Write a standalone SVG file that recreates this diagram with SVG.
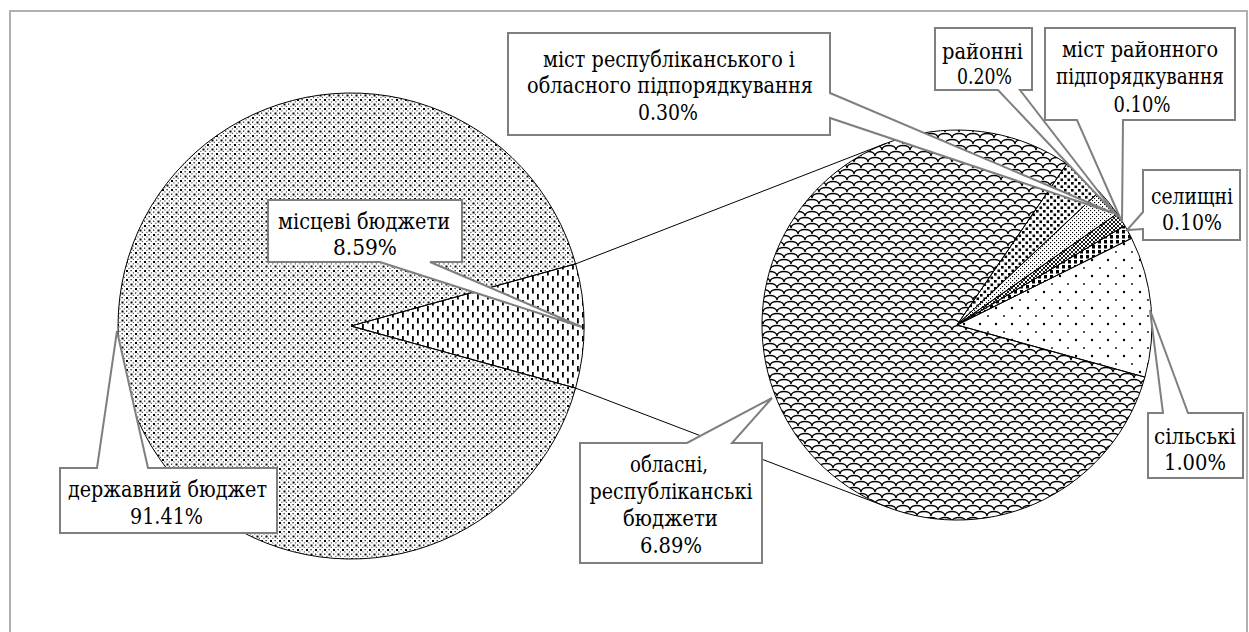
<svg xmlns="http://www.w3.org/2000/svg" width="1249" height="632" viewBox="0 0 1249 632">
<defs>
<pattern id="pState" width="9" height="9" patternUnits="userSpaceOnUse">
<rect x="0" y="0" width="2" height="2" fill="#000"/>
<rect x="4.5" y="4.5" width="2" height="2" fill="#000"/>
<rect x="4.5" y="0" width="1.3" height="1.3" fill="#222"/>
<rect x="0" y="4.5" width="1.3" height="1.3" fill="#222"/>
<rect x="2.3" y="2.3" width="1.2" height="1.2" fill="#555"/>
<rect x="6.8" y="6.8" width="1.2" height="1.2" fill="#555"/>
<rect x="6.8" y="2.3" width="1.2" height="1.2" fill="#555"/>
<rect x="2.3" y="6.8" width="1.2" height="1.2" fill="#555"/>
</pattern>
<pattern id="pLocal" width="10" height="12" patternUnits="userSpaceOnUse">
<rect x="2" y="0" width="1.8" height="5.5" fill="#000"/>
<rect x="7" y="6" width="1.8" height="5.5" fill="#000"/>
</pattern>
<pattern id="pScale" width="14" height="12" patternUnits="userSpaceOnUse">
<path d="M0,6 C0,0 14,0 14,6 M-7,12 C-7,6 7,6 7,12 M7,12 C7,6 21,6 21,12 M-7,0 C-7,-6 7,-6 7,0 M7,0 C7,-6 21,-6 21,0" fill="none" stroke="#000" stroke-width="1.4"/>
</pattern>
<pattern id="pRural" width="16" height="16" patternUnits="userSpaceOnUse">
<circle cx="4" cy="4" r="1.2" fill="#000"/>
<circle cx="12" cy="12" r="0.9" fill="#000"/>
</pattern>
<pattern id="pCityRep" width="7" height="7" patternUnits="userSpaceOnUse">
<rect x="0" y="0" width="2.6" height="2.6" fill="#000"/>
<rect x="3.5" y="3.5" width="2.6" height="2.6" fill="#000"/>
</pattern>
<pattern id="pDistrict" width="4" height="4" patternUnits="userSpaceOnUse">
<rect x="0" y="0" width="1.1" height="1.1" fill="#000"/>
<rect x="2" y="2" width="1.1" height="1.1" fill="#000"/>
</pattern>
<pattern id="pCityDist" width="4" height="4" patternUnits="userSpaceOnUse">
<path d="M0,0 L4,4 M4,0 L0,4" stroke="#000" stroke-width="0.9"/>
</pattern>
<pattern id="pSettle" width="6" height="5" patternUnits="userSpaceOnUse">
<rect x="0" y="0" width="3" height="3.5" fill="#000"/>
</pattern>
<style>
.slice{stroke:#000;stroke-width:1}
.call{fill:#fff;stroke:#7f7f7f;stroke-width:2;stroke-linejoin:miter}
.lbl{font-family:"DejaVu Serif",serif;font-size:22px;fill:#000;text-anchor:middle}
.conn{stroke:#000;stroke-width:1;fill:none}
</style>
</defs>
<rect x="10" y="11" width="1237" height="640" fill="#fff" stroke="#b0b0b0" stroke-width="2"/>

<g id="pie-main">
<path class="slice" fill="url(#pState)" d="M351,326 L575.6,263.9 A233,233 0 1 0 575.6,388.1 Z"/>
<path class="slice" fill="url(#pLocal)" d="M351,326 L575.6,388.1 A233,233 0 0 0 575.6,263.9 Z"/>
</g>
<g id="pie-secondary">
<path class="slice" fill="url(#pScale)" d="M957,325 L1066.8,163.9 A195,195 0 1 0 1144.9,377.1 Z"/>
<path class="slice" fill="url(#pRural)" d="M957,325 L1144.9,377.1 A195,195 0 0 0 1131.6,238.3 Z"/>
<path class="slice" fill="url(#pSettle)" d="M957,325 L1131.6,238.3 A195,195 0 0 0 1124.8,225.7 Z"/>
<path class="slice" fill="url(#pCityDist)" d="M957,325 L1124.8,225.7 A195,195 0 0 0 1117.2,213.7 Z"/>
<path class="slice" fill="url(#pDistrict)" d="M957,325 L1117.2,213.7 A195,195 0 0 0 1099.3,191.6 Z"/>
<path class="slice" fill="url(#pCityRep)" d="M957,325 L1099.3,191.6 A195,195 0 0 0 1066.8,163.9 Z"/>
</g>
<g id="connectors">
<line class="conn" x1="575.6" y1="263.9" x2="886.4" y2="143.2"/>
<line class="conn" x1="575.6" y1="388.1" x2="887.4" y2="507.1"/>
</g>

<g id="label-state">
<path class="call" d="M60,468 L97,468 L117,331 L148,468 L277,468 L277,533 L60,533 Z"/>
<text class="lbl" x="167.5" y="497" textLength="199" lengthAdjust="spacingAndGlyphs">державний бюджет</text>
<text class="lbl" x="166.5" y="524" textLength="73" lengthAdjust="spacingAndGlyphs">91.41%</text>
</g>
<g id="label-local">
<path class="call" d="M268,200 L462,200 L462,262 L430,262 L582,327 L380,262 L268,262 Z"/>
<text class="lbl" x="364" y="229" textLength="172" lengthAdjust="spacingAndGlyphs">місцеві бюджети</text>
<text class="lbl" x="365" y="255" textLength="64" lengthAdjust="spacingAndGlyphs">8.59%</text>
</g>
<g id="label-cityrep">
<path class="call" d="M508,33 L830,33 L830,93 L1113,213 L830,118 L830,135 L508,135 Z"/>
<text class="lbl" x="669" y="67" textLength="252" lengthAdjust="spacingAndGlyphs">міст республіканського і</text>
<text class="lbl" x="670" y="93" textLength="286" lengthAdjust="spacingAndGlyphs">обласного підпорядкування</text>
<text class="lbl" x="668" y="120" textLength="60" lengthAdjust="spacingAndGlyphs">0.30%</text>
</g>
<g id="label-district">
<path class="call" d="M935,28 L1032,28 L1032,90 L1020,90 L1118,217 L998,90 L935,90 Z"/>
<text class="lbl" x="982.5" y="59" textLength="81" lengthAdjust="spacingAndGlyphs">районні</text>
<text class="lbl" x="984.5" y="84" textLength="55" lengthAdjust="spacingAndGlyphs">0.20%</text>
</g>
<g id="label-citydist">
<path class="call" d="M1045,28 L1235,28 L1235,120 L1123,120 L1122,222 L1077,120 L1045,120 Z"/>
<text class="lbl" x="1140" y="57" textLength="156" lengthAdjust="spacingAndGlyphs">міст районного</text>
<text class="lbl" x="1140" y="84" textLength="168" lengthAdjust="spacingAndGlyphs">підпорядкування</text>
<text class="lbl" x="1142" y="112" textLength="57" lengthAdjust="spacingAndGlyphs">0.10%</text>
</g>
<g id="label-settle">
<path class="call" d="M1143,170 L1240,170 L1240,240 L1143,240 L1143,229 L1127,230 L1143,212 Z"/>
<text class="lbl" x="1192" y="204" textLength="82" lengthAdjust="spacingAndGlyphs">селищні</text>
<text class="lbl" x="1192" y="230" textLength="60" lengthAdjust="spacingAndGlyphs">0.10%</text>
</g>
<g id="label-rural">
<path class="call" d="M1148,413 L1163,413 L1150,310 L1188,413 L1243,413 L1243,478 L1148,478 Z"/>
<text class="lbl" x="1195" y="444" textLength="82" lengthAdjust="spacingAndGlyphs">сільські</text>
<text class="lbl" x="1195" y="470" textLength="62" lengthAdjust="spacingAndGlyphs">1.00%</text>
</g>
<g id="label-regional">
<path class="call" d="M580,443 L687,443 L772,398 L732,443 L762,443 L762,563 L580,563 Z"/>
<text class="lbl" x="669" y="472" textLength="78" lengthAdjust="spacingAndGlyphs">обласні,</text>
<text class="lbl" x="671" y="499" textLength="163" lengthAdjust="spacingAndGlyphs">республіканські</text>
<text class="lbl" x="670.5" y="526" textLength="95" lengthAdjust="spacingAndGlyphs">бюджети</text>
<text class="lbl" x="671" y="553" textLength="62" lengthAdjust="spacingAndGlyphs">6.89%</text>
</g>
</svg>
